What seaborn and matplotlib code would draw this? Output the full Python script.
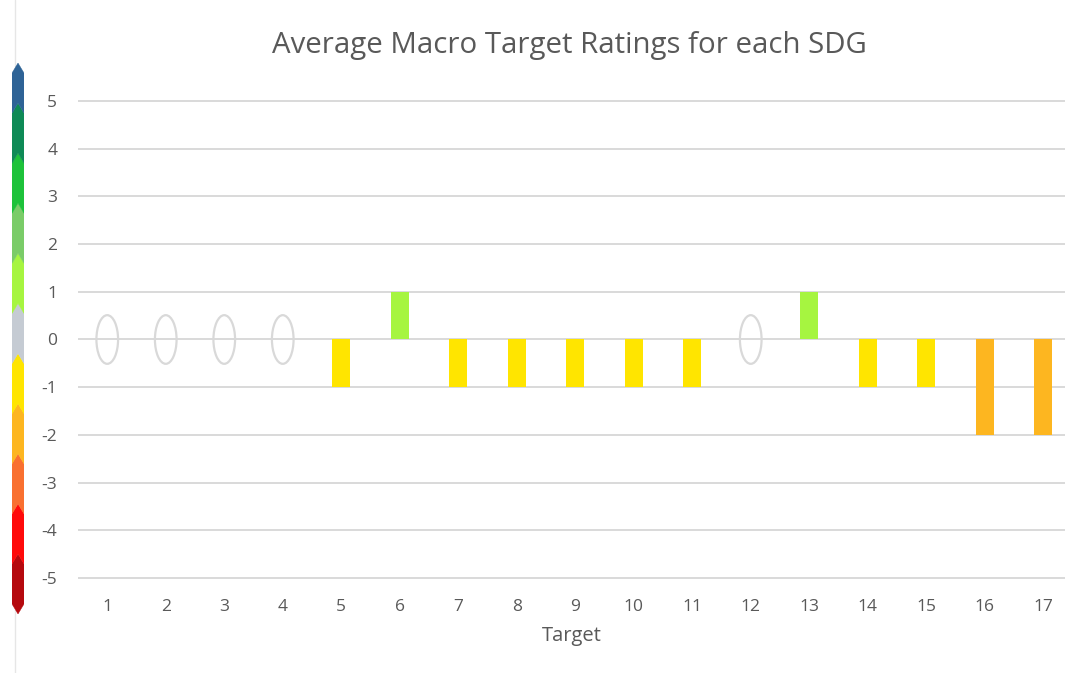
import numpy as np
import pandas as pd
import seaborn as sns
import matplotlib.pyplot as plt
from matplotlib.patches import Ellipse, Polygon
from matplotlib.lines import Line2D

# dados
targets = [str(i) for i in range(1, 18)]
ratings = [0, 0, 0, 0, -1, 1, -1, -1, -1, -1, -1, 0, 1, -1, -1, -2, -2]

# escala de cores (-5 .. 5)
scale_levels = [-5, -4, -3, -2, -1, 0, 1, 2, 3, 4, 5]
scale_colors = ["#B5090E", "#FF0A0A", "#F97030", "#FDB620", "#FFE500", "#C5CBD3",
                "#A6F540", "#7ACC68", "#1DC23A", "#0E8A56", "#2E6396"]
cor = dict(zip(scale_levels, scale_colors))

df = pd.DataFrame({"Target": targets, "Rating": ratings})

sns.set_style("white")
plt.rcParams["font.family"] = ["Open Sans", "DejaVu Sans"]
plt.rcParams["axes.unicode_minus"] = False
texto = "#595959"
grade = "#D9D9D9"

W, H = 1065, 673
fig = plt.figure(figsize=(W / 100, H / 100), dpi=100)

y0, y1 = -5.2, 5.2
px_unit = 47.7
top_px = 101 - 0.2 * px_unit
bot_px = 578 + 0.2 * px_unit
ax = fig.add_axes([78 / W, 1 - bot_px / H, 1 - 78 / W, (bot_px - top_px) / H])

sns.barplot(data=df, x="Target", y="Rating", hue="Target", legend=False,
            palette=[cor[v] for v in ratings], width=0.31, saturation=1,
            linewidth=0, ax=ax, zorder=3)

# elipses para as metas com valor 0
for i, v in enumerate(ratings):
    if v == 0:
        ax.add_patch(Ellipse((i, v), 0.37, 1.02, fill=False, edgecolor=grade, lw=1.6, zorder=4))

ax.set_ylim(y0, y1)
ax.set_xlim(-0.5, (W - 78) / 58.5 - 0.5)
ax.set_yticks(range(-5, 6))
for yv in range(-5, 6):
    ax.axhline(yv, color=grade, lw=1.4, zorder=1)
for s in ax.spines.values():
    s.set_visible(False)
ax.tick_params(axis="both", length=0, labelsize=12.5, colors=texto)
ax.tick_params(axis="y", pad=15)
ax.tick_params(axis="x", pad=8)
ax.set_xlabel("Target", fontsize=14.5, color=texto, labelpad=8)
ax.set_ylabel("")

fig.text(569 / W, 1 - 45 / H, "Average Macro Target Ratings for each SDG",
         ha="center", va="center", fontsize=21.2, color=texto)

# barra de cores lateral
cax = fig.add_axes([12 / W, 1 - 614 / H, 12 / W, (614 - 63) / H])
cax.set_xlim(0, 1)
cax.set_ylim(0, 11)
cax.axis("off")
h = 0.2
for k, c in enumerate(scale_colors):
    if k == 0:
        base = [(1, h), (0.5, 0), (0, h)]
    else:
        base = [(1, k), (0.5, k + h), (0, k)]
    if k == 10:
        topo = [(0, 11 - h), (0.5, 11), (1, 11 - h)]
    else:
        topo = [(0, k + 1), (0.5, k + 1 + h), (1, k + 1)]
    cax.add_patch(Polygon(base + topo, closed=True, facecolor=c, edgecolor=c, lw=0.3))

fig.add_artist(Line2D([15 / W, 15 / W], [0, 1], color="#E6E6E6", lw=1, zorder=0))

fig.savefig("out.png", dpi=100)
